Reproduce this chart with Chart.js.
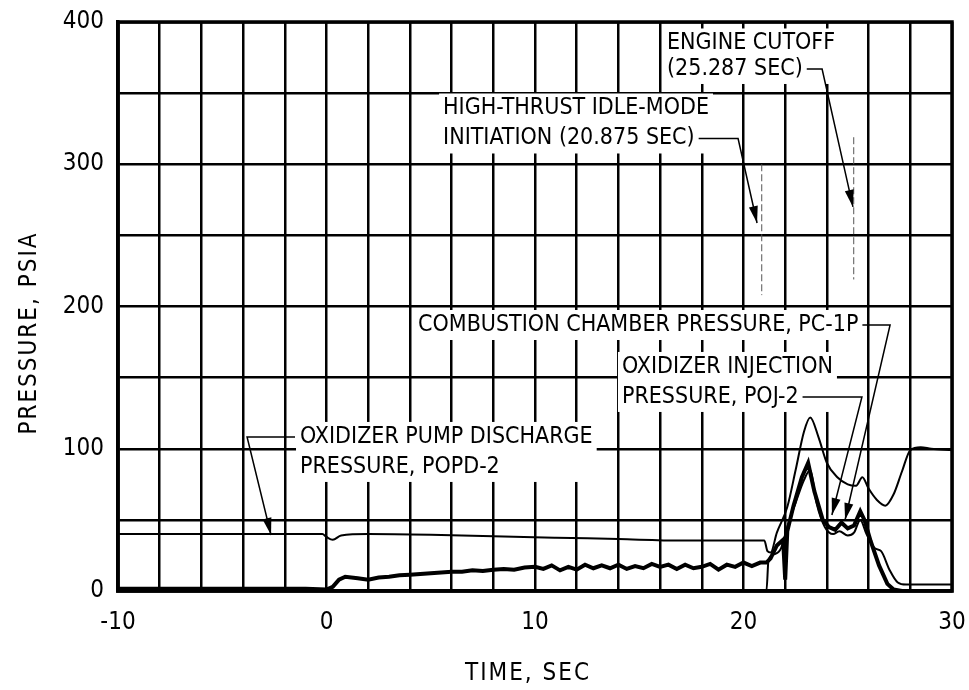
<!DOCTYPE html>
<html>
<head>
<meta charset="utf-8">
<script src="https://cdn.jsdelivr.net/npm/chart.js@4.4.1/dist/chart.umd.min.js"></script>
<style>
  html, body { margin: 0; padding: 0; background: #fff; }
  #wrap { width: 969px; height: 690px; }
</style>
</head>
<body>
<div id="wrap"><canvas id="chart"></canvas></div>
<script>
const FONT = '"DejaVu Sans Condensed", "DejaVu Sans", sans-serif';

// Oxidizer pump discharge pressure, POPD-2 (thin, upper trace)
const popdTime = [-10, -0.2, 0, 0.3, 0.7, 2, 5, 8, 11, 14, 17, 19, 21, 21.15, 21.3, 21.6, 22.1, 22.5, 22.9, 23.2, 23.6, 24.0, 24.5, 25.0, 25.4, 25.7, 26.0, 26.4, 26.8, 27.2, 27.6, 28.0, 28.5, 29, 30];
const popdPsia = [40, 40, 38, 36, 39, 40, 39.5, 38.5, 37.5, 36.5, 35.5, 35.5, 35.5, 28, 27, 41, 59, 85, 112, 122, 108, 90, 80, 75, 74, 80, 72, 64, 60, 68, 84, 99, 101, 100, 99];

// Combustion chamber pressure, PC-1P (thick, jagged)
const pcTime = [-10, -5, -1, 0, 0.3, 0.6, 0.9, 1.5, 2, 2.5, 3, 3.5, 4, 4.5, 5, 5.5, 6, 6.5, 7, 7.5, 8, 8.5, 9, 9.5, 10, 10.4, 10.8, 11.2, 11.6, 12, 12.4, 12.8, 13.2, 13.6, 14, 14.4, 14.8, 15.2, 15.6, 16, 16.4, 16.8, 17.2, 17.6, 18, 18.4, 18.8, 19.2, 19.6, 20, 20.4, 20.8, 21.1, 21.3, 21.6, 21.9, 22.0, 22.1, 22.4, 22.8, 23.1, 23.4, 23.8, 24.1, 24.4, 24.7, 25.0, 25.3, 25.6, 25.8, 26.1, 26.5, 26.9, 27.2, 27.6, 30];
const pcPsia = [1.5, 1.5, 1.5, 1, 3, 8, 10, 9, 8, 9.5, 10, 11, 11.5, 12, 12.5, 13, 13.5, 13.5, 14.5, 14, 15, 15.5, 15, 16.5, 17, 15.5, 18, 14.5, 17, 15, 18.5, 16, 18, 16, 18.5, 15.5, 17.5, 16, 19, 17, 18.5, 15.5, 18.5, 16, 17, 19, 15, 18.5, 17, 20, 17.5, 20, 20, 23, 32, 36, 8, 42, 60, 80, 90, 70, 50, 45, 43, 48, 44, 46, 56, 50, 35, 18, 5, 1, 0, 0];

// Oxidizer injection pressure, POJ-2 (thin, lower trace)
const pojTime = [-10, 21.1, 21.2, 21.5, 21.8, 22.1, 22.5, 22.9, 23.2, 23.5, 23.9, 24.3, 24.6, 25.0, 25.3, 25.6, 25.9, 26.3, 26.6, 27.0, 27.4, 27.8, 30];
const pojPsia = [0, 0, 22, 26, 30, 45, 62, 78, 85, 62, 45, 40, 42, 39, 41, 50, 40, 30, 28, 15, 6, 4.5, 4.5];

// event times (sec) and the span of their marker lines (psia)
const eventTimes = [20.875, 25.287];
const eventTop = [300, 319];
const eventBottom = [208, 219];

const xTickLabels = [-10, 0, 10, 20, 30];
const yTickLabels = [0, 100, 200, 300, 400];

const toPoints = (xs, ys) => xs.map((x, i) => ({ x, y: ys[i] }));

// callouts: anchor of first line in data units, leader from text edge to arrow tip
const notes = [
  { lines: ['HIGH-THRUST IDLE-MODE', 'INITIATION (20.875 SEC)'], x: 5.59, y: 339.2, gap: 30,
    leader: { line: 1, side: 'right', pts: [[19.74, 318.2], [20.65, 258.7]] } },
  { lines: ['ENGINE CUTOFF', '(25.287 SEC)'], x: 16.33, y: 384.9, gap: 25.5,
    leader: { line: 1, side: 'right', pts: [[23.77, 366.9], [25.25, 270]] } },
  { lines: ['COMBUSTION CHAMBER PRESSURE, PC-1P'], x: 4.39, y: 187, gap: 30,
    leader: { line: 0, side: 'right', pts: [[27.03, 187], [24.87, 49.9]] } },
  { lines: ['OXIDIZER INJECTION', 'PRESSURE, POJ-2'], x: 14.17, y: 157.5, gap: 30,
    leader: { line: 1, side: 'right', pts: [[25.68, 136.4], [24.24, 53.4]] } },
  { lines: ['OXIDIZER PUMP DISCHARGE', 'PRESSURE, POPD-2'], x: -1.27, y: 108.3, gap: 30,
    leader: { line: 0, side: 'left', pts: [[-3.81, 108.3], [-2.66, 39.4]] } },
];

function arrowHead(ctx, x1, y1, x2, y2) {
  const a = Math.atan2(y2 - y1, x2 - x1);
  const len = 17, hw = 4.5;
  ctx.beginPath();
  ctx.moveTo(x2, y2);
  ctx.lineTo(x2 - len * Math.cos(a) + hw * Math.sin(a), y2 - len * Math.sin(a) - hw * Math.cos(a));
  ctx.lineTo(x2 - len * Math.cos(a) - hw * Math.sin(a), y2 - len * Math.sin(a) + hw * Math.cos(a));
  ctx.closePath();
  ctx.fill();
}

const overlay = {
  id: 'overlay',
  afterDatasetsDraw(chart) {
    const { ctx, chartArea: a, scales: { x, y } } = chart;
    ctx.save();

    // heavy frame round the plot
    ctx.strokeStyle = '#000';
    ctx.lineWidth = 3.5;
    ctx.strokeRect(a.left, a.top, a.right - a.left, a.bottom - a.top);

    // event marker lines
    ctx.lineWidth = 1;
    ctx.strokeStyle = '#555';
    ctx.setLineDash([7, 3]);
    eventTimes.forEach((t, i) => {
      ctx.beginPath();
      ctx.moveTo(x.getPixelForValue(t), y.getPixelForValue(eventTop[i]));
      ctx.lineTo(x.getPixelForValue(t), y.getPixelForValue(eventBottom[i]));
      ctx.stroke();
    });
    ctx.setLineDash([]);

    // callout text on white boxes
    ctx.font = `23px ${FONT}`;
    ctx.textBaseline = 'middle';
    ctx.textAlign = 'left';
    notes.forEach(n => {
      const px = x.getPixelForValue(n.x);
      const py = y.getPixelForValue(n.y);
      const widths = n.lines.map(s => ctx.measureText(s).width);
      const w = Math.max(...widths);
      ctx.fillStyle = '#fff';
      ctx.fillRect(px - 4, py - 15, w + 8, (n.lines.length - 1) * n.gap + 30);
      ctx.fillStyle = '#000';
      n.lines.forEach((s, i) => ctx.fillText(s, px, py + i * n.gap));

      // leader line with arrow
      const L = n.leader;
      const sy = py + L.line * n.gap;
      const sx = L.side === 'right' ? px + widths[L.line] + 4 : px - 5;
      const pts = [[sx, sy]].concat(L.pts.map(p => [x.getPixelForValue(p[0]), y.getPixelForValue(p[1])]));
      pts[1][1] = sy;
      ctx.strokeStyle = '#000';
      ctx.lineWidth = 1.5;
      ctx.beginPath();
      pts.forEach((p, i) => i ? ctx.lineTo(p[0], p[1]) : ctx.moveTo(p[0], p[1]));
      ctx.stroke();
      const k = pts.length - 1;
      arrowHead(ctx, pts[k - 1][0], pts[k - 1][1], pts[k][0], pts[k][1]);
    });
    ctx.restore();
  },
  afterDraw(chart) {
    const { ctx } = chart;
    ctx.save();
    ctx.fillStyle = '#000';
    ctx.font = `24px ${FONT}`;
    ctx.letterSpacing = '2px';
    ctx.textAlign = 'center';
    ctx.textBaseline = 'middle';
    ctx.fillText('TIME, SEC', 528, 674);
    ctx.translate(30, 333);
    ctx.rotate(-Math.PI / 2);
    ctx.fillText('PRESSURE, PSIA', 0, 0);
    ctx.restore();
  }
};

new Chart(document.getElementById('chart'), {
  type: 'line',
  data: {
    datasets: [
      { label: 'POPD-2', data: toPoints(popdTime, popdPsia), borderColor: '#000', borderWidth: 2,
        pointRadius: 0, pointHoverRadius: 0, cubicInterpolationMode: 'monotone' },
      { label: 'PC-1P', data: toPoints(pcTime, pcPsia), borderColor: '#000', borderWidth: 4,
        pointRadius: 0, pointHoverRadius: 0, tension: 0 },
      { label: 'POJ-2', data: toPoints(pojTime, pojPsia), borderColor: '#000', borderWidth: 2,
        pointRadius: 0, pointHoverRadius: 0, cubicInterpolationMode: 'monotone' },
    ],
  },
  options: {
    responsive: true,
    maintainAspectRatio: false,
    animation: false,
    layout: { padding: { top: 22, right: 17, left: 0, bottom: 0 } },
    plugins: { legend: { display: false }, tooltip: { enabled: false } },
    scales: {
      x: {
        type: 'linear', min: -10, max: 30,
        // fixed strip height; label overflow is already covered by layout padding
        afterFit: (s) => { s.height = 99; s.paddingLeft = 0; s.paddingRight = 0; },
        grid: { color: '#000', lineWidth: 2.5, drawTicks: false },
        border: { display: true, color: '#000', width: 3.5 },
        ticks: {
          stepSize: 2, padding: 17, color: '#000', maxRotation: 0, autoSkip: false,
          font: { family: FONT, size: 24 },
          callback: (v) => xTickLabels.includes(v) ? String(v) : '',
        },
      },
      y: {
        min: 0, max: 400,
        afterFit: (s) => { s.width = 118; s.paddingTop = 0; s.paddingBottom = 0; },
        grid: { color: '#000', lineWidth: 2.5, drawTicks: false },
        border: { display: true, color: '#000', width: 3.5 },
        ticks: {
          stepSize: 50, padding: 14, color: '#000', autoSkip: false,
          font: { family: FONT, size: 24 },
          callback: (v) => yTickLabels.includes(v) ? String(v) : '',
        },
      },
    },
  },
  plugins: [overlay],
});
</script>
</body>
</html>
